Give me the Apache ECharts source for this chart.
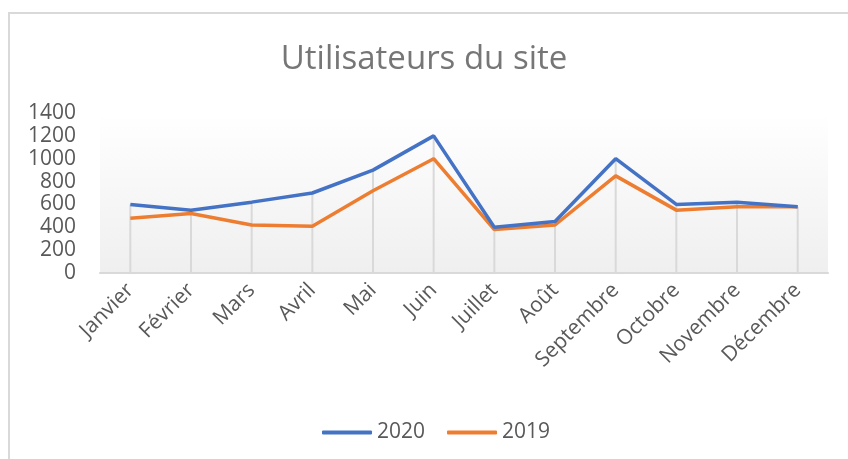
<!DOCTYPE html>
<html lang="fr">

<head>
  <meta charset="UTF-8">
  <title>Utilisateurs du site</title>
  <script src="https://cdn.jsdelivr.net/npm/echarts@6/dist/echarts.min.js"></script>
  <style>
    body { margin: 0; background: #fff; }
    #frame { position: absolute; left: 8px; top: 12px; width: 900px; height: 500px; border-left: 2px solid #d9d9d9; border-top: 2px solid #d9d9d9; }
    #chart { position: absolute; left: 0; top: 0; width: 848px; height: 459px; }
  </style>
</head>

<body>
  <div id="frame"></div>
  <div id="chart"></div>
</body>
<script>
  var months = ['Janvier', 'Février', 'Mars', 'Avril', 'Mai', 'Juin', 'Juillet', 'Août', 'Septembre', 'Octobre', 'Novembre', 'Décembre']
  var data2020 = [600, 550, 620, 700, 900, 1200, 400, 450, 1000, 600, 620, 580]
  var data2019 = [480, 520, 420, 410, 720, 1000, 380, 420, 850, 550, 580, 580]

  // drop lines go from the highest point down to the axis
  var dropLines = months.map(function (m, i) {
    return Math.max(data2020[i], data2019[i])
  })

  var font = '"Open Sans", sans-serif'
  var chart = echarts.init(document.getElementById('chart'))
  var option = {
    animation: false,
    title: {
      text: 'Utilisateurs du site',
      left: 'center',
      top: 38,
      textStyle: { fontFamily: font, fontSize: 33, fontWeight: 'normal', color: '#767676' }
    },
    legend: {
      data: ['2020', '2019'],
      bottom: 11,
      left: 317,
      icon: 'roundRect',
      itemWidth: 50,
      itemHeight: 4,
      itemGap: 22,
      textStyle: { fontFamily: font, fontSize: 21, color: '#595959' }
    },
    grid: {
      left: 100,
      right: 20,
      top: 113,
      bottom: 186,
      show: true,
      borderWidth: 0,
      backgroundColor: new echarts.graphic.LinearGradient(0, 0, 0, 1, [
        { offset: 0, color: '#ffffff' },
        { offset: 1, color: '#efefef' }
      ])
    },
    xAxis: {
      type: 'category',
      data: months,
      boundaryGap: true,
      axisLine: { lineStyle: { color: '#d9d9d9', width: 2 } },
      axisTick: { show: false },
      axisLabel: { rotate: 45, margin: 14, fontFamily: font, fontSize: 21, color: '#595959' }
    },
    yAxis: {
      type: 'value',
      min: 0,
      max: 1400,
      interval: 200,
      axisLine: { show: false },
      axisTick: { show: false },
      splitLine: { show: false },
      axisLabel: {
        margin: 24,
        fontFamily: font,
        fontSize: 21,
        color: '#595959',
        formatter: function (v) { return String(v) }
      }
    },
    series: [
      {
        name: 'drop',
        type: 'bar',
        data: dropLines,
        barWidth: 2,
        itemStyle: { color: '#d9d9d9' },
        z: 1,
        silent: true
      },
      {
        name: '2020',
        type: 'line',
        data: data2020,
        symbol: 'none',
        color: '#4472c4',
        lineStyle: { width: 3.5, color: '#4472c4' },
        z: 3
      },
      {
        name: '2019',
        type: 'line',
        data: data2019,
        symbol: 'none',
        color: '#ed7d31',
        lineStyle: { width: 3.5, color: '#ed7d31' },
        z: 2
      }
    ]
  }
  chart.setOption(option)
</script>

</html>
